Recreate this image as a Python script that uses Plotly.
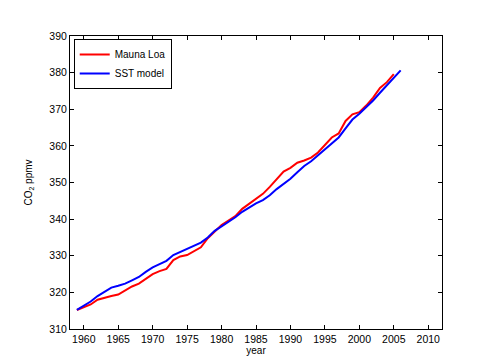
import plotly.graph_objects as go

years_ml = list(range(1959, 2006))
mauna_loa = [315.2, 315.9, 316.7, 318.0, 318.6, 319.0, 319.4, 320.6, 321.6, 322.4,
             323.6, 325.0, 325.8, 326.4, 328.8, 329.8, 330.2, 331.2, 332.3, 334.8,
             336.6, 338.4, 339.6, 340.8, 342.8, 344.1, 345.4, 346.9, 348.8, 351.0,
             353.0, 354.0, 355.4, 356.0, 356.8, 358.2, 360.3, 362.3, 363.4, 366.8,
             368.6, 369.2, 371.0, 373.2, 375.8, 377.4, 379.6]

years_sst = list(range(1959, 2007))
sst_model = [315.2, 316.3, 317.5, 319.0, 320.2, 321.3, 321.8, 322.4, 323.3, 324.2,
             325.6, 326.8, 327.7, 328.6, 330.2, 331.0, 332.0, 332.8, 333.6, 335.0,
             336.8, 338.0, 339.2, 340.5, 342.0, 343.2, 344.3, 345.2, 346.5, 348.2,
             349.6, 351.0, 352.8, 354.5, 355.8, 357.4, 359.0, 360.8, 362.3, 364.8,
             367.2, 368.8, 370.6, 372.4, 374.5, 376.6, 378.8, 380.6]

x_ticks = [1960, 1965, 1970, 1975, 1980, 1985, 1990, 1995, 2000, 2005, 2010]
y_ticks = [310, 320, 330, 340, 350, 360, 370, 380, 390]

fig = go.Figure()
fig.add_trace(go.Scatter(x=years_ml, y=mauna_loa, mode="lines", name="Mauna Loa",
                         line=dict(color="#ff0000", width=2)))
fig.add_trace(go.Scatter(x=years_sst, y=sst_model, mode="lines", name="SST model",
                         line=dict(color="#0000ff", width=2)))

axis_common = dict(showgrid=False, zeroline=False, showline=True, linecolor="black",
                   linewidth=1, mirror="ticks", ticks="inside", ticklen=4,
                   tickcolor="black", tickfont=dict(family="Liberation Sans", size=10.5, color="black"))

fig.update_layout(
    width=480, height=360,
    margin=dict(l=62, r=46, t=28, b=39),
    paper_bgcolor="white", plot_bgcolor="white",
    font=dict(family="Liberation Sans", size=10, color="black"),
    showlegend=True,
    legend=dict(x=0.01, y=0.99, xanchor="left", yanchor="top",
                bordercolor="black", borderwidth=1, bgcolor="white",
                font=dict(size=10), tracegroupgap=0, itemwidth=30),
    xaxis=dict(range=[1958, 2012], tickvals=x_ticks,
               title=dict(text="year", standoff=2, font=dict(size=10)), **axis_common),
    yaxis=dict(range=[310, 390], tickvals=y_ticks,
               title=dict(text="CO<sub>2</sub> ppmv", standoff=14, font=dict(size=10)), **axis_common),
)

fig.write_html("out.html")
